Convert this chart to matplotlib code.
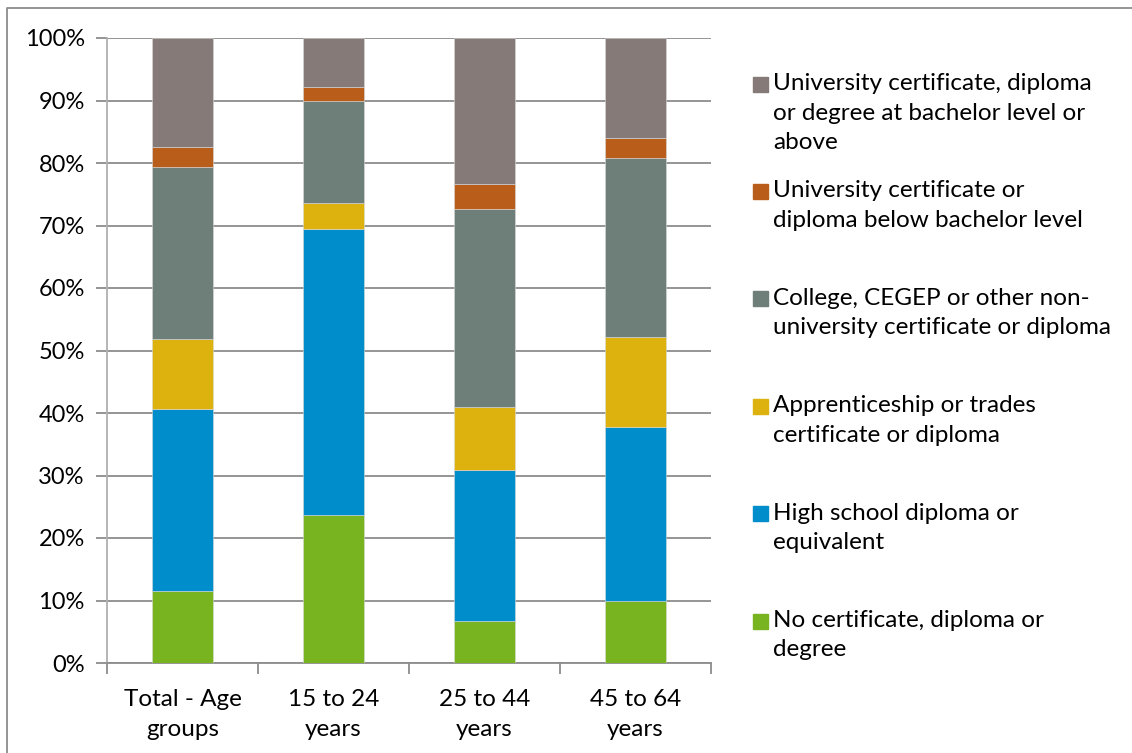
import matplotlib.pyplot as plt
from matplotlib.lines import Line2D
from matplotlib.patches import Rectangle
import numpy as np

plt.rcParams['font.family'] = ['Lato', 'DejaVu Sans']

groups = ['Total - Age\ngroups', '15 to 24\nyears', '25 to 44\nyears', '45 to 64\nyears']

# shares in percent, bottom to top
no_cert = [11.5, 23.7, 6.7, 10.0]
high_school = [29.1, 45.7, 24.2, 27.8]
apprentice = [11.2, 4.2, 10.1, 14.4]
college = [27.6, 16.3, 31.6, 28.6]
univ_below = [3.2, 2.3, 4.0, 3.2]
univ_bach = [17.4, 7.8, 23.4, 16.0]

series = [no_cert, high_school, apprentice, college, univ_below, univ_bach]
labels = ['No certificate, diploma or\ndegree',
          'High school diploma or\nequivalent',
          'Apprenticeship or trades\ncertificate or diploma',
          'College, CEGEP or other non-\nuniversity certificate or diploma',
          'University certificate or\ndiploma below bachelor level',
          'University certificate, diploma\nor degree at bachelor level or\nabove']
colors = ['#77b41f', '#008dcb', '#ddb20f', '#6e7e79', '#b85e1a', '#857a78']

fig = plt.figure(figsize=(11.32, 7.53), dpi=100)
ax = fig.add_axes([107 / 1132, 90 / 753, 604 / 1132, 625 / 753])

x = np.arange(len(groups))
bottom = np.zeros(len(groups))
for vals, col in zip(series, colors):
    ax.bar(x, vals, 0.4, bottom=bottom, color=col, edgecolor='#d9d9d9',
           linewidth=0.4, zorder=3)
    bottom += np.array(vals)

ax.set_xlim(-0.5, 3.5)
ax.set_ylim(0, 100)
ax.set_yticks(np.arange(0, 101, 10))
ax.set_yticklabels([f'{v}%' for v in range(0, 101, 10)], fontsize=17)
ax.yaxis.grid(True, color='#8c8c8c', linewidth=1.3, zorder=0)
ax.set_xticks(x)
ax.set_xticklabels(groups, fontsize=17.5, linespacing=1.5)
ax.set_xticks(np.arange(-0.5, 4, 1), minor=True)
ax.tick_params(axis='x', which='major', length=0, pad=19)
ax.tick_params(axis='x', which='minor', length=8, width=1.3, color='#8c8c8c')
ax.tick_params(axis='y', length=8, width=1.3, color='#8c8c8c', pad=8)
for s in ['top', 'right']:
    ax.spines[s].set_visible(False)
ax.spines['left'].set_color('#b0b0b0')
ax.spines['left'].set_linewidth(1.3)
ax.spines['bottom'].set_color('#8c8c8c')
ax.spines['bottom'].set_linewidth(1.3)

# legend drawn by hand, top entry first
for i, (lab, col) in enumerate(zip(labels[::-1], colors[::-1])):
    yc = 1 - (84 + i * 107.4) / 753
    fig.patches.append(Rectangle((753 / 1132, yc - 7.5 / 753), 15 / 1132, 15 / 753,
                                 transform=fig.transFigure, color=col))
    fig.text(773 / 1132, yc + 11 / 753, lab, fontsize=17.5, va='top', ha='left',
             linespacing=1.5)

# chart frame
fig.add_artist(Line2D([7 / 1132, 7 / 1132, 1], [0, 1 - 8 / 753, 1 - 8 / 753],
                      transform=fig.transFigure, color='#8c8c8c', linewidth=1.3))

fig.savefig('out.png', dpi=100)
